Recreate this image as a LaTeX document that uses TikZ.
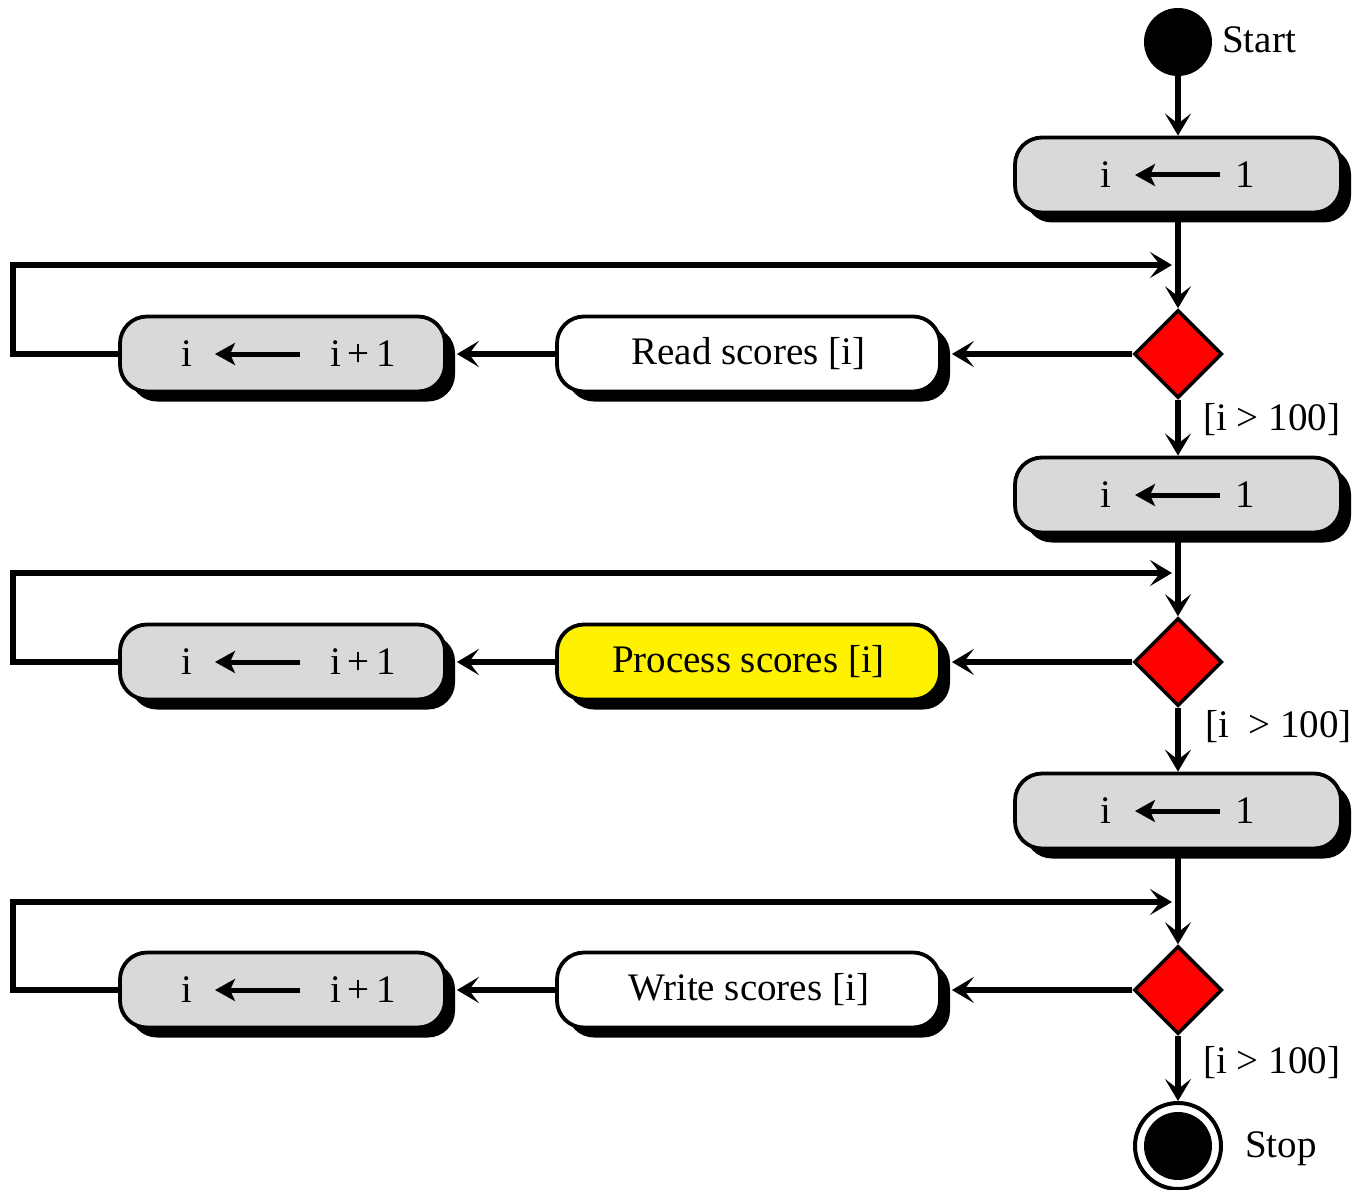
\documentclass[tikz,border=0pt]{standalone}
\usepackage{fontspec}
\setmainfont{Liberation Serif}
\usetikzlibrary{arrows.meta,shapes.geometric,shadows}
\definecolor{boxgray}{RGB}{217,217,217}
\begin{document}
\begin{tikzpicture}[x=1pt,y=-1pt,
  every node/.style={font=\fontsize{39}{46}\selectfont},
  conn/.style={line width=5.5pt, -{Stealth[length=22pt,width=26pt,inset=10pt]}},
  inarrow/.style={line width=5pt, -{Stealth[length=20pt,width=22pt,inset=5pt]}},
  actbox/.style={rectangle, draw, line width=3.8pt, rounded corners=27pt,
    minimum height=75pt, inner sep=0pt,
    drop shadow={shadow xshift=10pt, shadow yshift=-10pt, opacity=1, fill=black}},
  assign/.style={actbox, fill=boxgray, minimum width=326pt},
  incr/.style={actbox, fill=boxgray, minimum width=325pt},
  work/.style={actbox, fill=white, minimum width=383pt},
  decision/.style={diamond, aspect=1, draw, line width=3.5pt, fill=red,
    minimum width=88pt, minimum height=88pt, inner sep=0pt},
  startdot/.style={circle, fill=black, minimum size=68pt, inner sep=0pt},
  stopdot/.style={circle, draw, line width=4pt, fill=white, minimum size=86pt, inner sep=0pt,
    path picture={\fill[black] (path picture bounding box.center) circle (34);}},
  lbl/.style={inner sep=0pt, anchor=base west}
]
\useasboundingbox (0,0) rectangle (1357,1190);

% start
\node[startdot] (start) at (1178,42) {};
\node[lbl] (startlbl) at (1222,53) {Start};

% block 1
\node[assign] (B1) at (1178,175) {i\hspace{124pt}1};
\coordinate (m1) at (1178,265);
\node[decision] (D1) at (1178,354) {};
\node[work] (R1) at (748.5,354) {Read scores [i]};
\node[incr] (L1) at (282.5,354) {\hspace{12pt}i\hspace{138pt}i\hspace{6pt}+\hspace{7pt}1};
\node[lbl] (g1) at (1203,430) {[i > 100]};

% block 2
\node[assign] (B2) at (1178,495) {i\hspace{124pt}1};
\coordinate (m2) at (1178,573);
\node[decision] (D2) at (1178,662) {};
\node[work, fill=yellow] (P2) at (748.5,662) {Process scores [i]};
\node[incr] (L2) at (282.5,662) {\hspace{12pt}i\hspace{138pt}i\hspace{6pt}+\hspace{7pt}1};
\node[lbl] (g2) at (1205,737) {[i\ \ > 100]};

% block 3
\node[assign] (B3) at (1178,811) {i\hspace{124pt}1};
\coordinate (m3) at (1178,902);
\node[decision] (D3) at (1178,990) {};
\node[work] (W3) at (748.5,990) {Write scores [i]};
\node[incr] (L3) at (282.5,990) {\hspace{12pt}i\hspace{138pt}i\hspace{6pt}+\hspace{7pt}1};
\node[lbl] (g3) at (1203,1073) {[i > 100]};

% stop
\node[stopdot] (stop) at (1178,1146) {};
\node[lbl] (stoplbl) at (1245,1157) {Stop};

% inner arrows
\foreach \b in {B1,B2,B3}{
  \draw[inarrow] ([xshift=42pt]\b.center) -- ([xshift=-43pt]\b.center);
}
\foreach \b in {L1,L2,L3}{
  \draw[inarrow] ([xshift=17.5pt]\b.center) -- ([xshift=-67.5pt]\b.center);
}

% connectors
\draw[conn] (start) -- (B1);
\draw[conn] (B1) -- (D1);
\draw[conn, shorten >=10pt] (D1.west) -- (R1.east);
\draw[conn, shorten >=10pt] (R1.west) -- (L1.east);
\draw[conn, shorten >=6pt] (L1.west) -- ++(-105,0) |- (m1);
\draw[conn] (D1) -- (B2);

\draw[conn] (B2) -- (D2);
\draw[conn, shorten >=10pt] (D2.west) -- (P2.east);
\draw[conn, shorten >=10pt] (P2.west) -- (L2.east);
\draw[conn, shorten >=6pt] (L2.west) -- ++(-105,0) |- (m2);
\draw[conn] (D2) -- (B3);

\draw[conn] (B3) -- (D3);
\draw[conn, shorten >=10pt] (D3.west) -- (W3.east);
\draw[conn, shorten >=10pt] (W3.west) -- (L3.east);
\draw[conn, shorten >=6pt] (L3.west) -- ++(-105,0) |- (m3);
\draw[conn] (D3) -- (stop);
\end{tikzpicture}
\end{document}
